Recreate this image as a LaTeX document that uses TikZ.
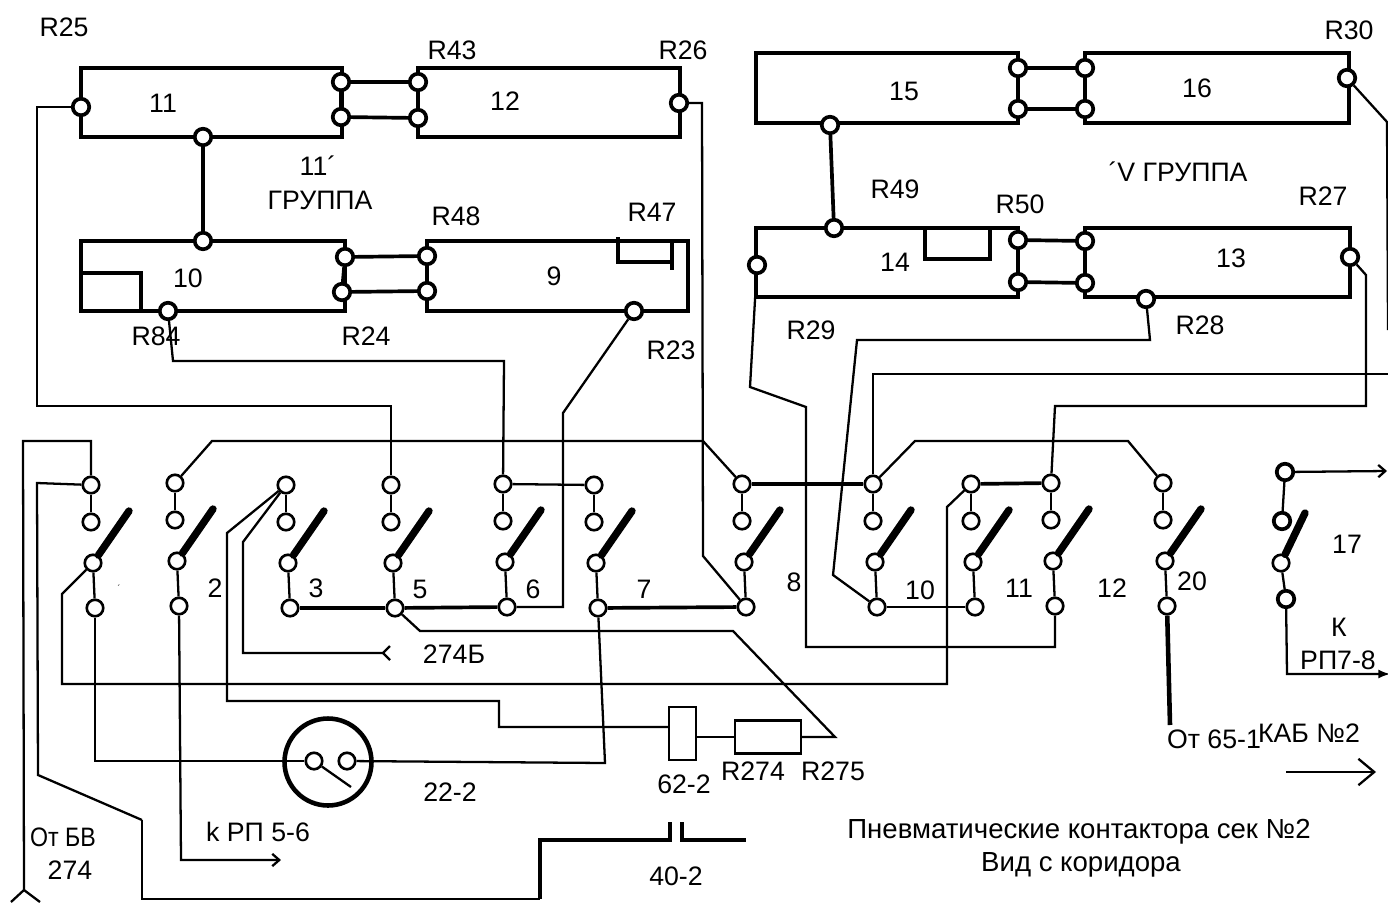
\documentclass[tikz,border=0pt]{standalone}
\usepackage{fontspec}
\setmainfont{Liberation Sans}
\usepackage{tikz}
\usetikzlibrary{arrows.meta}
\tikzset{
  wire/.style={line width=1.3pt,line join=miter},
  heavy/.style={line width=2.1pt},
  blade/.style={line width=4.2pt,line cap=round},
  term/.style={circle,draw=black,fill=white,line width=1.5pt,inner sep=0pt,minimum size=0.33cm},
  bterm/.style={term,line width=2.1pt},
  lab/.style={inner sep=0pt,font=\fontsize{15.2}{17}\selectfont},
  rectbox/.style={draw=black,line width=1.2pt,fill=white,inner sep=0pt},
  tipb/.style={-{Straight Barb[length=4pt,width=7pt]}}
}

\begin{document}
\begin{tikzpicture}[x=0.02cm,y=-0.02cm]
\useasboundingbox (0,0) rectangle (1388,902);
% contact groups
\draw[heavy] (81,68) rectangle (342,137);
\draw[heavy] (418,68) rectangle (680,137);
\draw[heavy] (81,241) rectangle (345,311);
\draw[heavy] (427,241) rectangle (688,311);
\draw[heavy] (756,53) rectangle (1018,123);
\draw[heavy] (1085,53) rectangle (1349,123);
\draw[heavy] (756,228) rectangle (1018,297);
\draw[heavy] (1085,228) rectangle (1350,297);
\draw[line width=2.8pt] (81,241) -- (81,311) -- (141,311) -- (141,273) -- (81,273);
\draw[heavy] (618,237) -- (618,262) -- (672,262);
\draw[heavy] (672,240) -- (672,270);
\draw[heavy] (925,228) -- (925,259) -- (990,259) -- (990,228);
\foreach \n/\x/\y in {t11l/81/107,t11a/341/82,t11b/341/117,t11c/203/137,t12a/418/82,t12b/418/118,t12r/679/103,
  t10c/203/241,t10a/345/257,t10b/342/292,t10d/168/311,t9a/427/256,t9b/427/291,t9c/634/311,
  t15a/1018/68,t15b/1018/109,t15c/830/125,t16a/1085/68,t16b/1085/109,t16r/1347/78,
  t14c/834/228,t14l/757/265,t14a/1018/240,t14b/1018/282,t13a/1085/241,t13b/1085/283,t13c/1146/299,t13r/1350/257}{
\node[bterm] (\n) at (\x,\y) {};
}
\draw[heavy] (t11a) -- (t12a);
\draw[heavy] (t11b) -- (t12b);
\draw[heavy] (t11a) -- (t11b);
\draw[heavy] (t12a) -- (t12b);
\draw[heavy] (t11c) -- (t10c);
\draw[heavy] (t10a) -- (t9a);
\draw[heavy] (t10b) -- (t9b);
\draw[heavy] (t10a) -- (t10b);
\draw[heavy] (t9a) -- (t9b);
\draw[heavy] (t15a) -- (t16a);
\draw[heavy] (t15b) -- (t16b);
\draw[heavy] (t15a) -- (t15b);
\draw[heavy] (t16a) -- (t16b);
\draw[heavy] (t15c) -- (t14c);
\draw[heavy] (t14a) -- (t13a);
\draw[heavy] (t14b) -- (t13b);
\draw[heavy] (t14a) -- (t14b);
\draw[heavy] (t13a) -- (t13b);
% switches
\foreach \s/\x/\y in {s1/91/485,s2/175/483,s3/286/485,s5/391/485,s6/503/484,s7/594/485,s8/742/484,s10/873/484,s11/971/484,s12/1051/483,s20/1163/483}{
\node[term] (\s-t) at (\x,\y) {};
\node[term] (\s-u) at (\x,\y+37) {};
\node[term] (\s-m) at (\x+2,\y+78) {};
\node[term] (\s-l) at (\x+4,\y+123) {};
\draw[wire] (\s-t) -- (\s-u);
\draw[wire] (\s-m) -- (\s-l);
\draw[blade] (\s-m) -- (\x+38,\y+26);
}
\node[bterm] (s17-t) at (1285,472) {};
\node[bterm] (s17-u) at (1282,521) {};
\node[term] (s17-m) at (1281,563) {};
\node[bterm] (s17-l) at (1286,599) {};
\draw[wire] (s17-t) -- (s17-u);
\draw[wire] (s17-m) -- (s17-l);
\draw[blade] (s17-m) -- (1305,513);
% wires
\draw[wire] (t11l) -- (37,107) -- (37,406) -- (391,406) -- (s5-t);
\draw[wire] (t10d) -- (173,361) -- (504,361) -- (s6-t);
\draw[wire] (t9c) -- (563,413) -- (563,607) -- (s6-l);
\draw[wire] (t12r) -- (702,103) -- (703,556) -- (s8-l);
\draw[wire] (s2-t) -- (212,441) -- (703,441) -- (s8-t);
\draw[wire] (t14l) -- (750,387) -- (806,407) -- (806,647) -- (1055,647) -- (s12-l);
\draw[wire] (t13c) -- (1150,340) -- (857,340) -- (833,575) -- (s10-l);
\coordinate (edgea) at (1388,374);
\draw[wire] (s10-t) -- (873,374) -- (edgea);
\coordinate (edgeb) at (1388,330);
\draw[wire] (t16r) -- (1387,122) -- (edgeb);
\draw[wire] (t13r) -- (1366,275) -- (1366,406) -- (1055,406) -- (s12-t);
\draw[wire] (s10-t) -- (915,441) -- (1128,441) -- (s20-t);
\draw[wire] (s10-l) -- (s11-l);
\draw[wire] (s6-t) -- (s7-t);
\draw[heavy] (s11-t) -- (s12-t);
\draw[heavy] (s8-t) -- (s10-t);
\draw[heavy] (s3-l) -- (s5-l);
\draw[heavy] (s5-l) -- (s6-l);
\draw[heavy] (s7-l) -- (s8-l);
\coordinate (bv) at (24,890);
\draw[wire] (s1-t) -- (91,441) -- (23,441) -- (bv);
\draw[wire] (11,902) -- (bv) -- (40,902);
\coordinate (ca) at (670,822);
\coordinate (cb) at (682,822);
\coordinate (cn) at (142,820);
\coordinate (cm) at (540,899);
\draw[wire] (s1-t) -- (37,483) -- (38,775) -- (cn);
\draw[line width=1.6pt] (cn) -- (142,899) -- (cm);
\draw[line width=2.4pt] (cm) -- (540,840) -- (670,840) -- (ca);
\draw[line width=2.4pt] (cb) -- (682,840) -- (746,840);
\draw[wire] (s11-t) -- (947,507) -- (947,684) -- (62,684) -- (62,594) -- (s1-m);
\coordinate (ab) at (383,653);
\draw[wire] (s3-t) -- (243,542) -- (243,653) -- (ab);
\draw[wire] (390,646) -- (ab) -- (390,660);
\coordinate (relin) at (669,727);
\draw[wire] (s3-t) -- (227,533) -- (227,701) -- (499,701) -- (499,727) -- (relin);
\node[rectbox,minimum width=0.54cm,minimum height=1.06cm] (rel) at (682.5,733.5) {};
\node[rectbox,minimum width=1.32cm,minimum height=0.66cm] (res) at (768,737) {};
\draw[wire] (rel.east |- res.west) -- (res.west);
\coordinate (rj) at (835,737);
\draw[wire] (res.east) -- (rj) -- (733,631) -- (420,631) -- (s5-l);
% lamp
\node[circle,draw=black,line width=2.6pt,minimum size=1.74cm,inner sep=0pt] (lamp) at (328,762) {};
\node[term] (lampa) at (314,761) {};
\node[term] (lampb) at (347,761) {};
\coordinate (lampk) at (351,787);
\draw[wire] (lampa) -- (lampk);
\draw[wire] (s1-l) -- (95,761) -- (lampa);
\draw[wire] (lampb) -- (605,763) -- (s7-l);
\coordinate (rp) at (281,860);
\draw[wire,tipb] (s2-l) -- (181,860) -- (rp);
\coordinate (ot) at (1170,725);
\draw[line width=2.6pt] (s20-l) -- (ot);
\coordinate (rpa) at (1387,471);
\draw[wire,tipb] (s17-t) -- (rpa);
\coordinate (rpb) at (1390,674);
\draw[wire,-latex] (s17-l) -- (1287,674) -- (rpb);
\coordinate (kaba) at (1286,772);
\coordinate (kabb) at (1376,772);
\draw[wire,-{Straight Barb[length=9pt,width=15pt]}] (kaba) -- (kabb);
% labels
\foreach \t/\x/\y in {R25/64/27,R43/452/50,R26/683/50,R48/456/216,R47/652/212,R84/156/336,R24/366/336,R23/671/350,
  R30/1349/30,R49/895/189,R50/1020/204,R27/1323/196,R29/811/330,R28/1200/325,R274/753/771,R275/833/771}{
\node[lab] (\t) at (\x,\y) {\t};
}
\foreach \t/\x/\y in {11/163/103,12/505/101,10/188/278,9/554/276,15/904/91,16/1197/88,14/895/262,13/1231/258}{
\node[lab] (box\t) at (\x,\y) {\t};
}
\foreach \t/\x/\y in {2/215/588,3/316/588,5/420/589,6/533/589,7/644/589,8/794/582,10/920/590,11/1019/588,12/1112/588,20/1192/581,17/1347/544}{
\node[lab] (sw\t) at (\x,\y) {\t};
}
\node[lab] (swa) at (119,588) {\tiny ´};
\node[lab] (gr2) at (318,166) {11´};
\node[lab] (gr2b) at (320,200) {ГРУППА};
\node[lab] (gr4) at (1178,172) {´V ГРУППА};
\node[lab] (k) at (1339,627) {К};
\node[lab] (rp78) at (1338,660) {РП7-8};
\node[lab] (l274b) at (454,654) {274Б};
\node[lab] (l222) at (450,792) {22-2};
\node[lab] (l622) at (684,784) {62-2};
\node[lab] (l402) at (676,876) {40-2};
\node[lab] (ot65) at (1214,739) {От 65-1};
\node[lab] (kab) at (1309,733) {КАБ №2};
\node[lab] (rp56) at (258,832) {k РП 5-6};
\node[lab,font=\fontsize{13.2}{15}\selectfont,yscale=1.15] (otbv) at (63,837) {От БВ};
\node[lab] (l274) at (70,870) {274};
\node[lab,font=\fontsize{15.7}{18}\selectfont] (title) at (1079,832) {Пневматические контактора сек №2};
\node[lab,font=\fontsize{15.7}{18}\selectfont] (titleb) at (1081,865) {Вид с коридора};
\end{tikzpicture}
\end{document}
